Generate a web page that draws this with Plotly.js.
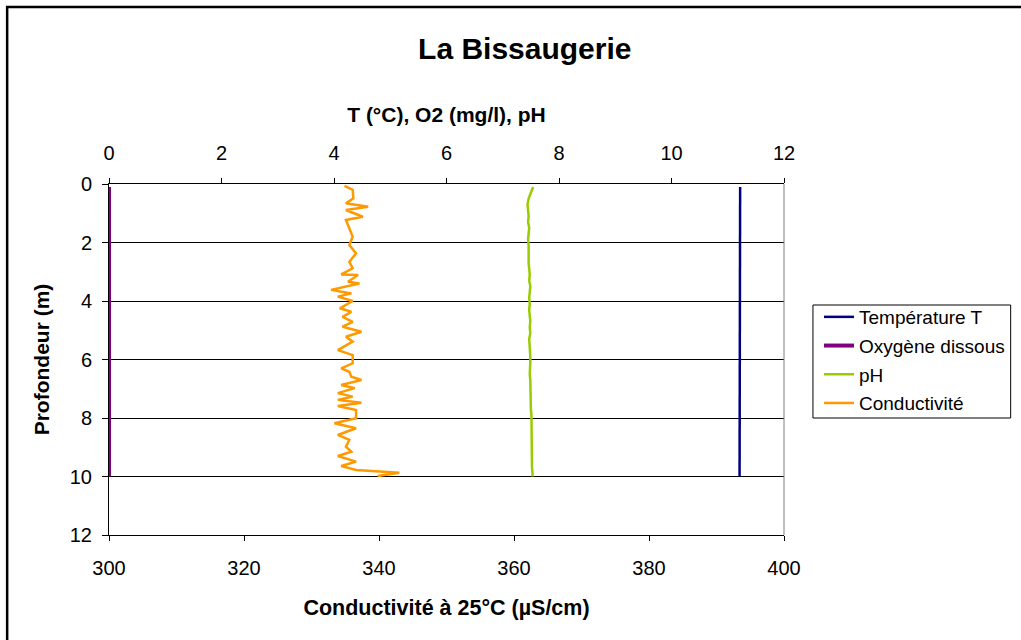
<!DOCTYPE html>
<html>
<head>
<meta charset="utf-8">
<script src="https://cdn.plot.ly/plotly-3.0.1.min.js"></script>
<style>html,body{margin:0;padding:0;background:#fff;}#chart{width:1021px;height:640px;}</style>
</head>
<body>
<div id="chart"></div>
<script>
// Depth grid for T, O2, pH (m)
const depthProfile = [0.1,0.3,0.5,0.7,0.9,1.1,1.3,1.5,1.7,1.9,2.1,2.3,2.5,2.7,2.9,3.1,3.3,3.5,3.7,3.9,4.1,4.3,4.5,4.7,4.9,5.1,5.3,5.5,5.7,5.9,6.1,6.3,6.5,6.7,6.9,7.1,7.3,7.5,7.7,7.9,8.1,8.3,8.5,8.7,8.9,9.1,9.3,9.5,9.7,9.9,10.0];
const temperature = [11.22,11.22,11.21,11.21,11.22,11.21,11.21,11.21,11.21,11.21,11.21,11.21,11.21,11.21,11.21,11.21,11.21,11.21,11.21,11.21,11.21,11.21,11.21,11.21,11.21,11.21,11.21,11.21,11.21,11.21,11.21,11.21,11.21,11.21,11.21,11.21,11.21,11.21,11.21,11.21,11.21,11.21,11.21,11.21,11.21,11.21,11.21,11.21,11.21,11.21,11.21];
const oxygen = [0,0,0,0,0,0,0,0,0,0,0,0,0,0,0,0,0,0,0,0,0,0,0,0,0,0,0,0,0,0,0,0,0,0,0,0,0,0,0,0,0,0,0,0,0,0,0,0,0,0,0];
const pH = [7.54,7.50,7.46,7.44,7.45,7.46,7.45,7.47,7.46,7.45,7.46,7.46,7.45,7.46,7.47,7.48,7.47,7.49,7.48,7.47,7.48,7.47,7.48,7.49,7.48,7.49,7.47,7.48,7.48,7.49,7.49,7.48,7.48,7.49,7.49,7.49,7.50,7.49,7.50,7.51,7.51,7.51,7.52,7.51,7.52,7.52,7.51,7.52,7.52,7.53,7.53];

// Conductivity profile (µS/cm) with its own depths
const depthCond = [0.06,0.2,0.49,0.66,0.78,0.89,1.12,1.23,1.51,1.8,2.09,2.37,2.66,2.88,3.09,3.11,3.34,3.4,3.62,3.74,3.85,4.0,4.25,4.37,4.54,4.71,4.88,5.05,5.22,5.39,5.68,5.85,6.13,6.3,6.42,6.59,6.7,6.87,6.98,7.15,7.27,7.38,7.48,7.59,7.73,8.01,8.18,8.35,8.58,8.75,8.98,9.15,9.3,9.49,9.64,9.78,9.87,9.98];
const conductivity = [334.9,336.1,336.2,335.1,338.4,335.1,337.6,335.1,335.6,336.1,335.6,336.6,335.6,336.1,334.4,336.9,335.4,337.1,332.9,335.9,333.9,336.1,334.2,335.9,334.6,336.1,334.6,337.4,335.1,336.1,333.9,336.1,336.1,334.4,335.6,335.9,337.4,334.4,336.4,333.9,336.1,333.9,337.4,333.9,336.6,336.6,333.4,336.6,333.9,335.6,335.1,335.9,333.9,336.6,334.4,336.6,343.0,339.8];

const seriesNames = ["Température T","Oxygène dissous","pH","Conductivité"];
const seriesColors = ["#000080","#800080","#99CC00","#FF9900"];

const traces = [
  {x: temperature, y: depthProfile, xaxis:'x2', yaxis:'y', name: seriesNames[0], legendgroup:'a', mode:'lines', line:{color:seriesColors[0], width:2.5}},
  {x: oxygen, y: depthProfile, xaxis:'x2', yaxis:'y', name: seriesNames[1], legendgroup:'b', mode:'lines', line:{color:seriesColors[1], width:4}, cliponaxis:false},
  {x: pH, y: depthProfile, xaxis:'x2', yaxis:'y', name: seriesNames[2], legendgroup:'c', mode:'lines', line:{color:seriesColors[2], width:2.5}},
  {x: conductivity, y: depthCond, xaxis:'x', yaxis:'y', name: seriesNames[3], legendgroup:'d', mode:'lines', line:{color:seriesColors[3], width:2.5}}
];

const font = {family:'"Liberation Sans", Arial, sans-serif', color:'#000'};
const layout = {
  width:1021, height:640,
  margin:{l:109, r:236, t:184, b:105, pad:0},
  paper_bgcolor:'#fff', plot_bgcolor:'#fff',
  font: Object.assign({size:20}, font),
  showlegend:true,
  title:{text:'<b>La Bissaugerie</b>', font:Object.assign({size:30}, font), x:0.514, xanchor:'center', y:0.925, yanchor:'middle'},
  xaxis:{range:[300,400], dtick:20, tick0:300, side:'bottom', showgrid:false, zeroline:false, layer:'below traces',
         showline:true, linecolor:'#000', linewidth:1, ticks:'outside', ticklen:5, tickcolor:'#000',
         ticklabelstandoff:10,
         tickfont:Object.assign({size:20}, font),
         title:{text:'<b>Conductivité à 25°C (µS/cm)</b>', font:Object.assign({size:21.5}, font), standoff:21}},
  xaxis2:{range:[0,12], dtick:2, tick0:0, side:'top', overlaying:'x', showgrid:false, zeroline:false, layer:'below traces',
         showline:true, linecolor:'#000', linewidth:1, ticks:'outside', ticklen:5, tickcolor:'#000',
         ticklabelstandoff:10,
         tickfont:Object.assign({size:20}, font),
         title:{text:'<b>T (°C), O2 (mg/l), pH</b>', font:Object.assign({size:21}, font), standoff:13}},
  yaxis:{range:[12,0], dtick:2, tick0:0, showgrid:true, gridcolor:'#000', gridwidth:1, zeroline:false, layer:'below traces',
         showline:true, linecolor:'#000', linewidth:1, ticks:'outside', ticklen:6, tickcolor:'#000',
         ticklabelstandoff:6,
         tickfont:Object.assign({size:20}, font),
         title:{text:'<b>Profondeur (m)</b>', font:Object.assign({size:21}, font), standoff:14}},
  legend:{x:(819-109)/676, xanchor:'left', y:(535-298)/351, yanchor:'top', borderwidth:0, bgcolor:'rgba(0,0,0,0)',
          font:Object.assign({size:19}, font), traceorder:'grouped', tracegroupgap:1, itemwidth:30},
  shapes:[
    {type:'line', xref:'paper', yref:'paper', x0:1, x1:1, y0:0, y1:1, line:{color:'#808080', width:1}},
    {type:'rect', xref:'paper', yref:'paper', x0:(814-109)/676, x1:(1012-109)/676, y0:(535-418)/351, y1:(535-305)/351, line:{color:'#000', width:1}, fillcolor:'rgba(0,0,0,0)', layer:'above'},
    {type:'rect', xref:'paper', yref:'paper', x0:(7-109)/676, x1:(1030-109)/676, y0:(535-650)/351, y1:(535-7)/351, line:{color:'#000', width:2.5}, fillcolor:'rgba(0,0,0,0)', layer:'above'}
  ]
};
Plotly.newPlot('chart', traces, layout, {displayModeBar:false, staticPlot:true});
</script>
</body>
</html>
